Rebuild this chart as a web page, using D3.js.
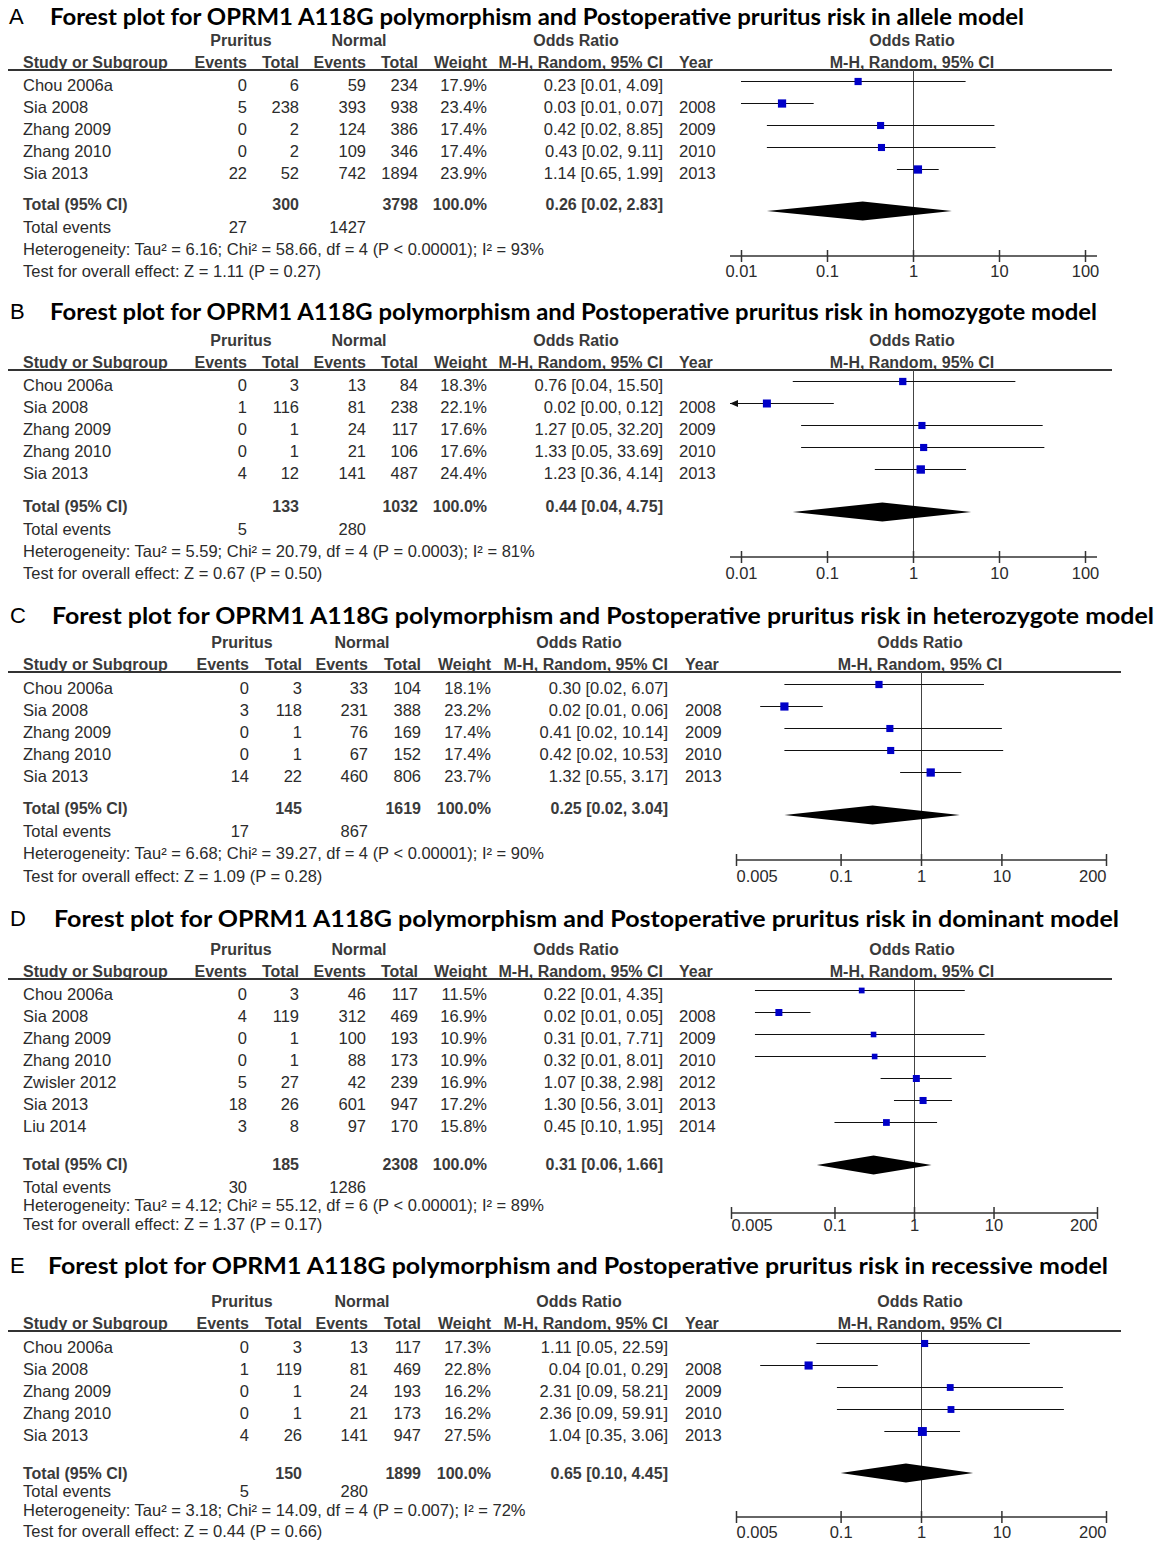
<!DOCTYPE html>
<html><head><meta charset="utf-8">
<script src="https://cdn.jsdelivr.net/npm/d3@7"></script>
<style>body{margin:0;background:#fff} svg{display:block}</style>
</head><body>
<svg id="chart" width="1159" height="1542"></svg>
<script>
// ---------------- DATA ----------------
const panelLetters = ["A", "B", "C", "D", "E"];
const panelTitles = [
  "Forest plot for OPRM1 A118G polymorphism and Postoperative pruritus risk in allele model",
  "Forest plot for OPRM1 A118G polymorphism and Postoperative pruritus risk in homozygote model",
  "Forest plot for OPRM1 A118G polymorphism and Postoperative pruritus risk in heterozygote model",
  "Forest plot for OPRM1 A118G polymorphism and Postoperative pruritus risk in dominant model",
  "Forest plot for OPRM1 A118G polymorphism and Postoperative pruritus risk in recessive model"
];
const studies5 = ["Chou 2006a", "Sia 2008", "Zhang 2009", "Zhang 2010", "Sia 2013"];
const years5 = ["", "2008", "2009", "2010", "2013"];
const studies7 = ["Chou 2006a", "Sia 2008", "Zhang 2009", "Zhang 2010", "Zwisler 2012", "Sia 2013", "Liu 2014"];
const years7 = ["", "2008", "2009", "2010", "2012", "2013", "2014"];
const ticksAB = [0.01, 0.1, 1, 10, 100];
const ticksCDE = [0.005, 0.1, 1, 10, 200];

// Panel A - allele model
const prEventsA = [0, 5, 0, 0, 22];
const prTotalA = [6, 238, 2, 2, 52];
const nEventsA = [59, 393, 124, 109, 742];
const nTotalA = [234, 938, 386, 346, 1894];
const weightA = [17.9, 23.4, 17.4, 17.4, 23.9];
const orA = [0.23, 0.03, 0.42, 0.43, 1.14];
const loA = [0.01, 0.01, 0.02, 0.02, 0.65];
const hiA = [4.09, 0.07, 8.85, 9.11, 1.99];
const totalsA = [300, 3798, 27, 1427];       // pr total, normal total, pr events, normal events
const pooledA = [0.26, 0.02, 2.83];
const hetA = "Heterogeneity: Tau² = 6.16; Chi² = 58.66, df = 4 (P < 0.00001); I² = 93%";
const testA = "Test for overall effect: Z = 1.11 (P = 0.27)";

// Panel B - homozygote model
const prEventsB = [0, 1, 0, 0, 4];
const prTotalB = [3, 116, 1, 1, 12];
const nEventsB = [13, 81, 24, 21, 141];
const nTotalB = [84, 238, 117, 106, 487];
const weightB = [18.3, 22.1, 17.6, 17.6, 24.4];
const orB = [0.76, 0.02, 1.27, 1.33, 1.23];
const loB = [0.04, 0.00, 0.05, 0.05, 0.36];
const hiB = [15.50, 0.12, 32.20, 33.69, 4.14];
const totalsB = [133, 1032, 5, 280];
const pooledB = [0.44, 0.04, 4.75];
const hetB = "Heterogeneity: Tau² = 5.59; Chi² = 20.79, df = 4 (P = 0.0003); I² = 81%";
const testB = "Test for overall effect: Z = 0.67 (P = 0.50)";

// Panel C - heterozygote model
const prEventsC = [0, 3, 0, 0, 14];
const prTotalC = [3, 118, 1, 1, 22];
const nEventsC = [33, 231, 76, 67, 460];
const nTotalC = [104, 388, 169, 152, 806];
const weightC = [18.1, 23.2, 17.4, 17.4, 23.7];
const orC = [0.30, 0.02, 0.41, 0.42, 1.32];
const loC = [0.02, 0.01, 0.02, 0.02, 0.55];
const hiC = [6.07, 0.06, 10.14, 10.53, 3.17];
const totalsC = [145, 1619, 17, 867];
const pooledC = [0.25, 0.02, 3.04];
const hetC = "Heterogeneity: Tau² = 6.68; Chi² = 39.27, df = 4 (P < 0.00001); I² = 90%";
const testC = "Test for overall effect: Z = 1.09 (P = 0.28)";

// Panel D - dominant model
const prEventsD = [0, 4, 0, 0, 5, 18, 3];
const prTotalD = [3, 119, 1, 1, 27, 26, 8];
const nEventsD = [46, 312, 100, 88, 42, 601, 97];
const nTotalD = [117, 469, 193, 173, 239, 947, 170];
const weightD = [11.5, 16.9, 10.9, 10.9, 16.9, 17.2, 15.8];
const orD = [0.22, 0.02, 0.31, 0.32, 1.07, 1.30, 0.45];
const loD = [0.01, 0.01, 0.01, 0.01, 0.38, 0.56, 0.10];
const hiD = [4.35, 0.05, 7.71, 8.01, 2.98, 3.01, 1.95];
const totalsD = [185, 2308, 30, 1286];
const pooledD = [0.31, 0.06, 1.66];
const hetD = "Heterogeneity: Tau² = 4.12; Chi² = 55.12, df = 6 (P < 0.00001); I² = 89%";
const testD = "Test for overall effect: Z = 1.37 (P = 0.17)";

// Panel E - recessive model
const prEventsE = [0, 1, 0, 0, 4];
const prTotalE = [3, 119, 1, 1, 26];
const nEventsE = [13, 81, 24, 21, 141];
const nTotalE = [117, 469, 193, 173, 947];
const weightE = [17.3, 22.8, 16.2, 16.2, 27.5];
const orE = [1.11, 0.04, 2.31, 2.36, 1.04];
const loE = [0.05, 0.01, 0.09, 0.09, 0.35];
const hiE = [22.59, 0.29, 58.21, 59.91, 3.06];
const totalsE = [150, 1899, 5, 280];
const pooledE = [0.65, 0.10, 4.45];
const hetE = "Heterogeneity: Tau² = 3.18; Chi² = 14.09, df = 4 (P = 0.007); I² = 72%";
const testE = "Test for overall effect: Z = 0.44 (P = 0.66)";

// ---------------- ASSEMBLY ----------------
function mk(i, studies, years, prE, prT, nE, nT, w, or, lo, hi, tot, pooled, het, test, ticks) {
  return { letter: panelLetters[i], title: panelTitles[i], studies, years, prE, prT, nE, nT, w, or, lo, hi, tot, pooled, het, test, ticks };
}
const panels = [
  mk(0, studies5, years5, prEventsA, prTotalA, nEventsA, nTotalA, weightA, orA, loA, hiA, totalsA, pooledA, hetA, testA, ticksAB),
  mk(1, studies5, years5, prEventsB, prTotalB, nEventsB, nTotalB, weightB, orB, loB, hiB, totalsB, pooledB, hetB, testB, ticksAB),
  mk(2, studies5, years5, prEventsC, prTotalC, nEventsC, nTotalC, weightC, orC, loC, hiC, totalsC, pooledC, hetC, testC, ticksCDE),
  mk(3, studies7, years7, prEventsD, prTotalD, nEventsD, nTotalD, weightD, orD, loD, hiD, totalsD, pooledD, hetD, testD, ticksCDE),
  mk(4, studies5, years5, prEventsE, prTotalE, nEventsE, nTotalE, weightE, orE, loE, hiE, totalsE, pooledE, hetE, testE, ticksCDE)
];

// ---------------- LAYOUT ----------------
const cols1 = { studyX: 23, ev1R: 247, tot1R: 299, ev2R: 366, tot2R: 418, wR: 487, orR: 663, yearL: 679, prurC: 241, normC: 359, orHeadC: 576 };
const cols2 = { studyX: 23, ev1R: 249, tot1R: 302, ev2R: 368, tot2R: 421, wR: 491, orR: 668, yearL: 685, prurC: 242, normC: 362, orHeadC: 579 };
const layouts = [
  { cols: cols1, letterX: 9, titleX: 50, titleW: 974, titleY: 16, h1: 40, h2: 62, lineY: 70, lineEnd: 1112, row0: 85, totalY: 204, diamondY: 211, eventsY: 227, hetY: 249, testY: 271, axisY: 256, tickY: 271, range: [741, 1085], axisExt: [730, 1097], plotHeadX: 912, edgeLabels: false },
  { cols: cols1, letterX: 10, titleX: 50, titleW: 1047, titleY: 311, h1: 340, h2: 362, lineY: 370, lineEnd: 1112, row0: 385, totalY: 506, diamondY: 512, eventsY: 529, hetY: 551, testY: 573, axisY: 557, tickY: 573, range: [741, 1085], axisExt: [730, 1097], plotHeadX: 912, edgeLabels: false },
  { cols: cols2, letterX: 10, titleX: 52, titleW: 1102, titleY: 615, h1: 642, h2: 664, lineY: 672, lineEnd: 1121, row0: 688, totalY: 808, diamondY: 815, eventsY: 831, hetY: 853, testY: 876, axisY: 860, tickY: 876, range: [736, 1106], axisExt: [736, 1106], plotHeadX: 920, edgeLabels: true },
  { cols: cols1, letterX: 10, titleX: 54, titleW: 1065, titleY: 918, h1: 949, h2: 971, lineY: 979, lineEnd: 1112, row0: 994, totalY: 1164, diamondY: 1165, eventsY: 1187, hetY: 1205, testY: 1224, axisY: 1213, tickY: 1225, range: [731, 1097], axisExt: [731, 1097], plotHeadX: 912, edgeLabels: true },
  { cols: cols2, letterX: 10, titleX: 48, titleW: 1060, titleY: 1265, h1: 1301, h2: 1323, lineY: 1331, lineEnd: 1121, row0: 1347, totalY: 1473, diamondY: 1473, eventsY: 1491, hetY: 1510, testY: 1531, axisY: 1517, tickY: 1532, range: [736, 1106], axisExt: [736, 1106], plotHeadX: 920, edgeLabels: true }
];

// ---------------- DRAW ----------------
const svg = d3.select("#chart");
const FONT = "'Liberation Sans', Arial, sans-serif";
const TXT = "#2b2b2b", HDR = "#3a3a3a";

function txt(x, y, s, o = {}) {
  return svg.append("text")
    .attr("x", x).attr("y", y)
    .attr("dominant-baseline", "central")
    .attr("text-anchor", o.anchor || "start")
    .attr("font-family", o.family || FONT)
    .attr("font-size", o.size || 16.5)
    .attr("font-weight", o.weight || "normal")
    .attr("fill", o.fill || TXT)
    .text(s);
}

const sizeScale = d3.scaleSqrt().domain([0, 100]).range([0, 17]);

function drawPanel(p, L) {
  const C = L.cols;
  // titles
  txt(L.letterX, L.titleY, p.letter, { size: 22, fill: "#000" });
  txt(L.titleX, L.titleY, p.title, { size: 22, weight: "bold", family: "Lato, 'Open Sans', sans-serif", fill: "#000" })
    .attr("textLength", L.titleW).attr("lengthAdjust", "spacingAndGlyphs");

  // headers
  const hb = { weight: "bold", size: 16, fill: HDR };
  txt(C.prurC, L.h1, "Pruritus", { ...hb, anchor: "middle" });
  txt(C.normC, L.h1, "Normal", { ...hb, anchor: "middle" });
  txt(C.orHeadC, L.h1, "Odds Ratio", { ...hb, anchor: "middle" });
  txt(L.plotHeadX, L.h1, "Odds Ratio", { ...hb, anchor: "middle" });
  txt(C.studyX, L.h2, "Study or Subgroup", hb);
  txt(C.ev1R, L.h2, "Events", { ...hb, anchor: "end" });
  txt(C.tot1R, L.h2, "Total", { ...hb, anchor: "end" });
  txt(C.ev2R, L.h2, "Events", { ...hb, anchor: "end" });
  txt(C.tot2R, L.h2, "Total", { ...hb, anchor: "end" });
  txt(C.wR, L.h2, "Weight", { ...hb, anchor: "end" });
  txt(C.orR, L.h2, "M-H, Random, 95% CI", { ...hb, anchor: "end" });
  txt(C.yearL, L.h2, "Year", hb);
  txt(L.plotHeadX, L.h2, "M-H, Random, 95% CI", { ...hb, anchor: "middle" });

  svg.append("line").attr("x1", 8).attr("x2", L.lineEnd)
    .attr("y1", L.lineY).attr("y2", L.lineY)
    .attr("stroke", "#333").attr("stroke-width", 2);

  // scales
  const x = d3.scaleLog().domain([p.ticks[0], p.ticks[p.ticks.length - 1]]).range(L.range);
  const [dMin, dMax] = x.domain();
  const yRow = d3.scaleLinear().domain([0, 1]).range([L.row0, L.row0 + 22]);

  // line of no effect
  svg.append("line").attr("x1", Math.round(x(1)) + 0.5).attr("x2", Math.round(x(1)) + 0.5)
    .attr("y1", L.lineY).attr("y2", L.axisY)
    .attr("stroke", "#444").attr("stroke-width", 1);

  const fmt2 = d3.format(".2f");
  p.studies.forEach((s, i) => {
    const ty = yRow(i);
    txt(C.studyX, ty, s);
    txt(C.ev1R, ty, p.prE[i], { anchor: "end" });
    txt(C.tot1R, ty, p.prT[i], { anchor: "end" });
    txt(C.ev2R, ty, p.nE[i], { anchor: "end" });
    txt(C.tot2R, ty, p.nT[i], { anchor: "end" });
    txt(C.wR, ty, d3.format(".1f")(p.w[i]) + "%", { anchor: "end" });
    txt(C.orR, ty, `${fmt2(p.or[i])} [${fmt2(p.lo[i])}, ${fmt2(p.hi[i])}]`, { anchor: "end" });
    if (p.years[i]) txt(C.yearL, ty, p.years[i]);

    // plot row
    const py = ty - 4;
    const clipLo = !(p.lo[i] >= dMin);
    const clipHi = p.hi[i] > dMax;
    const x1 = clipLo ? L.axisExt[0] : x(p.lo[i]);
    const x2 = clipHi ? L.axisExt[1] : x(p.hi[i]);
    svg.append("line").attr("x1", x1).attr("x2", x2).attr("y1", py + 0.5).attr("y2", py + 0.5)
      .attr("stroke", "#111").attr("stroke-width", 1);
    if (clipLo) {
      svg.append("path")
        .attr("d", `M${x1},${py + 0.5}L${x1 + 8},${py - 3}L${x1 + 8},${py + 4}Z`)
        .attr("fill", "#111");
    }
    if (clipHi) {
      svg.append("path")
        .attr("d", `M${x2},${py + 0.5}L${x2 - 8},${py - 3}L${x2 - 8},${py + 4}Z`)
        .attr("fill", "#111");
    }
    const sz = sizeScale(p.w[i]);
    svg.append("rect").attr("x", x(p.or[i]) - sz / 2).attr("y", py + 0.5 - sz / 2)
      .attr("width", sz).attr("height", sz).attr("fill", "#0000c8");
  });

  // totals
  const bb = { weight: "bold", size: 16, fill: HDR };
  txt(C.studyX, L.totalY, "Total (95% CI)", bb);
  txt(C.tot1R, L.totalY, p.tot[0], { ...bb, anchor: "end" });
  txt(C.tot2R, L.totalY, p.tot[1], { ...bb, anchor: "end" });
  txt(C.wR, L.totalY, "100.0%", { ...bb, anchor: "end" });
  txt(C.orR, L.totalY, `${fmt2(p.pooled[0])} [${fmt2(p.pooled[1])}, ${fmt2(p.pooled[2])}]`, { ...bb, anchor: "end" });

  txt(C.studyX, L.eventsY, "Total events");
  txt(C.ev1R, L.eventsY, p.tot[2], { anchor: "end" });
  txt(C.ev2R, L.eventsY, p.tot[3], { anchor: "end" });
  txt(C.studyX, L.hetY, p.het);
  txt(C.studyX, L.testY, p.test);

  // diamond
  const dy = L.diamondY, h = 9.5;
  const pts = [[x(p.pooled[1]), dy], [x(p.pooled[0]), dy - h], [x(p.pooled[2]), dy], [x(p.pooled[0]), dy + h]];
  svg.append("path").attr("d", d3.line()(pts) + "Z").attr("fill", "#000");

  // axis
  svg.append("line").attr("x1", L.axisExt[0]).attr("x2", L.axisExt[1])
    .attr("y1", L.axisY).attr("y2", L.axisY)
    .attr("stroke", "#333").attr("stroke-width", 1.5);
  const g = svg.append("g").attr("transform", `translate(0,${L.axisY})`)
    .call(d3.axisBottom(x).tickValues(p.ticks).tickFormat(d => String(d)).tickSize(6));
  g.attr("font-family", FONT).attr("font-size", 16.5);
  g.select(".domain").remove();
  g.selectAll(".tick line").attr("y1", -6).attr("y2", 6).attr("stroke", "#333").attr("stroke-width", 1.5);
  const n = p.ticks.length;
  g.selectAll(".tick text").attr("y", L.tickY - L.axisY).attr("dy", null)
    .attr("dominant-baseline", "central").attr("fill", TXT)
    .attr("text-anchor", (d, i) => L.edgeLabels ? (i === 0 ? "start" : (i === n - 1 ? "end" : "middle")) : "middle");
}

panels.forEach((p, i) => drawPanel(p, layouts[i]));
</script>
</body></html>
